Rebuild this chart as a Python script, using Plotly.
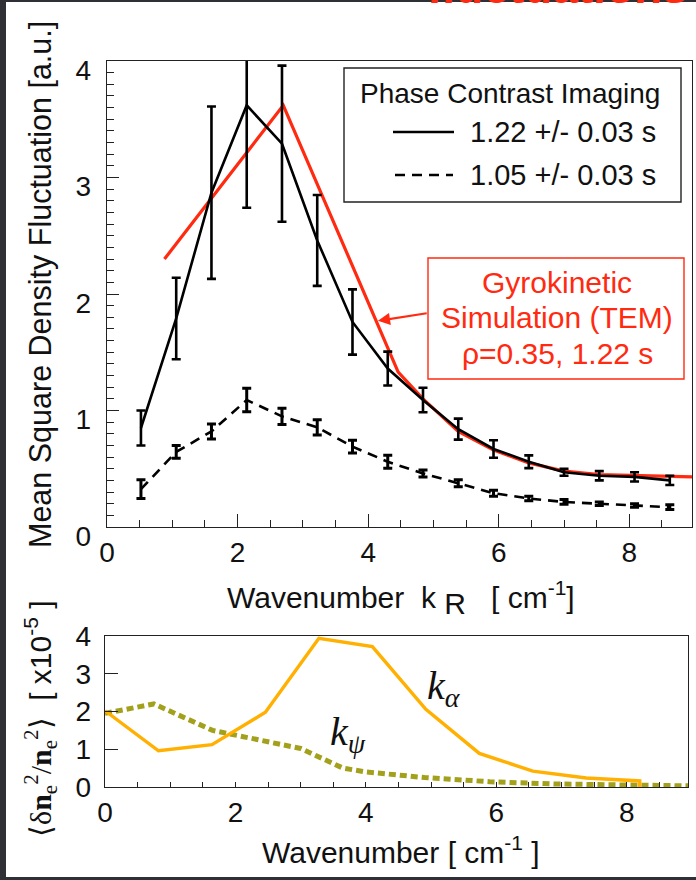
import plotly.graph_objects as go

W, H = 696, 880

# Phase Contrast Imaging: mean square density fluctuation vs k_R
k_pci = [0.52, 1.06, 1.60, 2.14, 2.68, 3.22, 3.76, 4.30, 4.84, 5.38, 5.92, 6.46, 7.00, 7.54, 8.08, 8.62]
pci_122 = [0.85, 1.79, 2.87, 3.62, 3.29, 2.46, 1.76, 1.36, 1.09, 0.84, 0.67, 0.56, 0.47, 0.44, 0.43, 0.40]
pci_122_err = [0.15, 0.35, 0.74, 0.88, 0.67, 0.39, 0.28, 0.145, 0.105, 0.09, 0.075, 0.055, 0.03, 0.04, 0.04, 0.04]
pci_105 = [0.325, 0.645, 0.82, 1.09, 0.95, 0.855, 0.69, 0.56, 0.46, 0.375, 0.29, 0.245, 0.215, 0.20, 0.185, 0.17]
pci_105_err = [0.08, 0.055, 0.065, 0.10, 0.07, 0.065, 0.055, 0.055, 0.03, 0.03, 0.025, 0.02, 0.02, 0.015, 0.015, 0.02]

# Gyrokinetic simulation (TEM), rho = 0.35, 1.22 s
k_gk = [0.88, 2.70, 4.46, 4.84, 5.38, 5.92, 6.46, 7.00, 7.54, 8.08, 8.62, 8.96]
gk = [2.30, 3.62, 1.33, 1.10, 0.82, 0.66, 0.55, 0.48, 0.45, 0.44, 0.43, 0.43]

# Simulated spectra along k_alpha and k_psi (x1e-5)
k_alpha_k = [0, 0.82, 1.64, 2.46, 3.28, 4.10, 4.92, 5.74, 6.56, 7.38, 8.20, 8.20]
k_alpha = [2.02, 0.96, 1.12, 1.98, 3.94, 3.72, 2.06, 0.89, 0.42, 0.24, 0.16, 0.0]
k_psi_k = [0, 0.75, 1.65, 2.45, 3.00, 3.65, 4.00, 4.90, 5.90, 6.90, 7.90, 8.95]
k_psi = [1.95, 2.20, 1.50, 1.20, 1.02, 0.50, 0.40, 0.25, 0.14, 0.08, 0.05, 0.03]

FONT = "Liberation Sans, Arial, sans-serif"
SERIF = "Liberation Serif, Times New Roman, serif"
RED = "#ff2a10"
ORANGE = "#ffb000"
OLIVE = "#a3a01c"
INK = "#111111"


def px(x):
    return x / W


def py(y):
    return 1 - y / H


fig = go.Figure()

fig.add_trace(go.Scatter(
    x=k_gk, y=gk, mode="lines", line=dict(color=RED, width=3.2),
    xaxis="x", yaxis="y", showlegend=False))
fig.add_trace(go.Scatter(
    x=k_pci, y=pci_122, mode="lines", line=dict(color="black", width=2.6),
    error_y=dict(type="data", array=pci_122_err, color="black", thickness=2.6, width=4.5),
    xaxis="x", yaxis="y", showlegend=False))
fig.add_trace(go.Scatter(
    x=k_pci, y=pci_105, mode="lines", line=dict(color="black", width=2.6, dash="10px,7px"),
    error_y=dict(type="data", array=pci_105_err, color="black", thickness=3, width=4.5),
    xaxis="x", yaxis="y", showlegend=False))

fig.add_trace(go.Scatter(
    x=k_psi_k, y=k_psi, mode="lines", line=dict(color=OLIVE, width=5, dash="7px,4px"),
    xaxis="x2", yaxis="y2", showlegend=False))
fig.add_trace(go.Scatter(
    x=k_alpha_k, y=k_alpha, mode="lines", line=dict(color=ORANGE, width=3.4),
    xaxis="x2", yaxis="y2", showlegend=False))

tickfont = dict(family=FONT, size=28, color=INK)
axis_common = dict(showgrid=False, zeroline=False, showline=True, linecolor="#222",
                   linewidth=1.4, mirror=True, ticks="inside", tickcolor="#222",
                   tickfont=tickfont, automargin=False)

fig.update_layout(
    width=W, height=H,
    margin=dict(l=0, r=0, t=0, b=0, pad=0, autoexpand=False),
    paper_bgcolor="#2e3035", plot_bgcolor="white",
    xaxis=dict(domain=[px(107), px(692)], range=[0, 8.96], anchor="y",
               dtick=2, ticklen=13, tickwidth=1.4,
               minor=dict(dtick=0.5, ticklen=7, ticks="inside", tickcolor="#222", tickwidth=1.2),
               ticklabelstandoff=0, **axis_common),
    yaxis=dict(domain=[py(527), py(61)], range=[0, 4.0], anchor="x",
               dtick=1, ticklen=12, tickwidth=1.4,
               minor=dict(dtick=0.1, ticklen=7, ticks="inside", tickcolor="#222", tickwidth=1.2),
               ticklabelstandoff=9, ticklabelshift=9, **axis_common),
    xaxis2=dict(domain=[px(105), px(688)], range=[0, 8.94], anchor="y2",
                dtick=2, ticklen=5, tickwidth=1.4,
                minor=dict(dtick=0.5, ticklen=5, ticks="inside", tickcolor="#222", tickwidth=1.2),
                ticklabelstandoff=0, **axis_common),
    yaxis2=dict(domain=[py(787), py(636)], range=[0, 4.0], anchor="x2",
                dtick=1, ticklen=13, tickwidth=1.4, ticklabelstandoff=7, **axis_common),
)

shapes = [
    # white slide panel
    dict(type="rect", xref="paper", yref="paper", x0=px(6), x1=px(696), y0=py(877), y1=py(2),
         fillcolor="white", line=dict(width=0), layer="below"),
    # legend frame and line samples
    dict(type="rect", xref="paper", yref="paper", x0=px(344), x1=px(681), y0=py(202), y1=py(68),
         fillcolor="white", line=dict(color="#222", width=1.4), layer="above"),
    dict(type="line", xref="paper", yref="paper", x0=px(393), x1=px(454), y0=py(132), y1=py(132),
         line=dict(color="black", width=2.6)),
    dict(type="line", xref="paper", yref="paper", x0=px(395), x1=px(453), y0=py(175), y1=py(175),
         line=dict(color="black", width=2.6, dash="10px,7px")),
    # gyrokinetic label frame
    dict(type="rect", xref="paper", yref="paper", x0=px(428), x1=px(684), y0=py(379), y1=py(258),
         fillcolor="white", line=dict(color=RED, width=1.4), layer="above"),
]
fig.update_layout(shapes=shapes)


def label(text, x, y, size, color=INK, family=FONT, xanchor="center", yanchor="middle", **kw):
    return dict(text=text, x=px(x), y=py(y), xref="paper", yref="paper", showarrow=False,
                xanchor=xanchor, yanchor=yanchor, font=dict(family=family, size=size, color=color), **kw)


ann = []
# slide heading, running off the top edge
ann.append(label("<b>fluctuations</b>", 690, 15, 46, color=RED, xanchor="right", yanchor="bottom"))
# axis titles
ann.append(label("Mean Square Density Fluctuation [a.u.]", 40, 285, 30.5, textangle=-90))
ann.append(label("Wavenumber  k <sub><span style='font-size:30px'>R</span></sub>   [ cm<sup>-1</sup>]",
                 401, 598, 30))
ann.append(label("Wavenumber [ cm<sup>-1</sup> ]", 401, 850, 30))
ann.append(label("<span style='font-family:Liberation Serif'>⟨δ<b>n</b><sub>e</sub><sup>2</sup>/"
                 "<b>n</b><sub>e</sub><sup>2</sup>⟩</span>  [ x10<sup>-5</sup> ]",
                 40, 719, 30, textangle=-90))
# legend text
ann.append(label("Phase Contrast Imaging", 510, 93, 28))
ann.append(label("1.22 +/- 0.03 s", 468, 132, 29, xanchor="left"))
ann.append(label("1.05 +/- 0.03 s", 468, 175, 29, xanchor="left"))
# gyrokinetic label
for t, yy in [("Gyrokinetic", 282), ("Simulation (TEM)", 317), ("ρ=0.35, 1.22 s", 353)]:
    ann.append(label(t, 557, yy, 30, color=RED))
ann.append(dict(text="", x=4.15, y=1.77, xref="x", yref="y", showarrow=True,
                ax=4.92, ay=1.837, axref="x", ayref="y",
                arrowhead=2, arrowsize=1.1, arrowwidth=2.2, arrowcolor=RED))
# curve labels in lower panel
ann.append(dict(text="<i>k</i><sub><i>α</i></sub>", x=5.2, y=2.62, xref="x2", yref="y2",
                xanchor="center", yanchor="middle", showarrow=False,
                font=dict(family=SERIF, size=40, color=INK)))
ann.append(dict(text="<i>k</i><sub><i>ψ</i></sub>", x=3.72, y=1.40, xref="x2", yref="y2",
                xanchor="center", yanchor="middle", showarrow=False,
                font=dict(family=SERIF, size=40, color=INK)))
fig.update_layout(annotations=ann)

fig.write_html("out.html")
